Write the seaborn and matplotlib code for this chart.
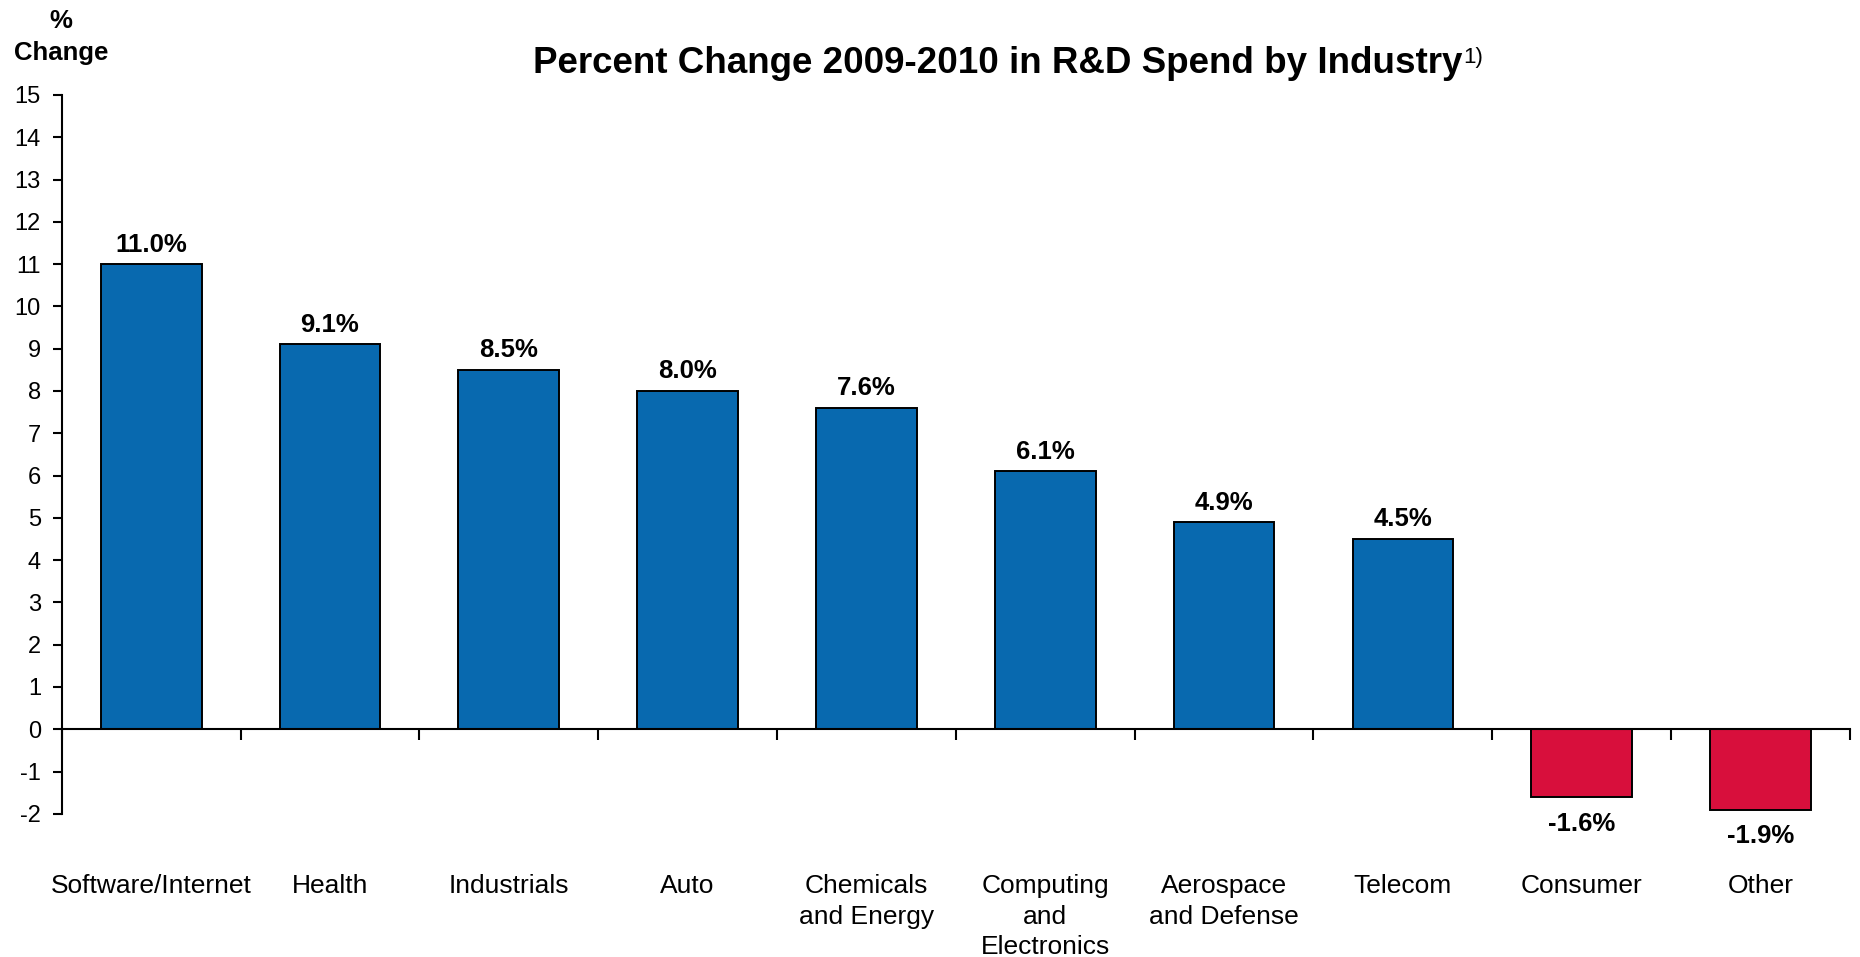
import matplotlib
matplotlib.use("Agg")
import matplotlib.pyplot as plt
import numpy as np
import pandas as pd
import seaborn as sns

# Percent change in R&D spend, 2009 -> 2010, by industry
industries = [
    "Software/Internet", "Health", "Industrials", "Auto",
    "Chemicals\nand Energy", "Computing\nand\nElectronics",
    "Aerospace\nand Defense", "Telecom", "Consumer", "Other",
]
pct_change = [11.0, 9.1, 8.5, 8.0, 7.6, 6.1, 4.9, 4.5, -1.6, -1.9]
value_labels = ["11.0%", "9.1%", "8.5%", "8.0%", "7.6%", "6.1%",
                "4.9%", "4.5%", "-1.6%", "-1.9%"]
y_ticks = list(range(-2, 16))

BLUE = "#0869AF"
RED = "#D80F3C"

sns.set_theme(style="white")
plt.rcParams["font.family"] = ["Liberation Sans", "DejaVu Sans"]
plt.rcParams.update({
    "text.color": "black",
    "axes.labelcolor": "black",
    "xtick.color": "black",
    "ytick.color": "black",
    "xtick.labelcolor": "black",
    "ytick.labelcolor": "black",
})

df = pd.DataFrame({"industry": industries, "pct": pct_change})
palette = {name: (BLUE if v >= 0 else RED) for name, v in zip(industries, pct_change)}

fig = plt.figure(figsize=(18.6, 9.57), dpi=100)
ax = fig.add_axes([0.0332, 0.1496, 0.9614, 0.7512])

sns.barplot(data=df, x="industry", y="pct", hue="industry", palette=palette,
            legend=False, width=0.563, edgecolor="black", linewidth=1.4,
            saturation=1, ax=ax)

ax.set_xlim(-0.5, len(industries) - 0.5)
ax.set_ylim(-2, 15)
ax.set_yticks(y_ticks)
ax.set_yticklabels([str(t) for t in y_ticks])
ax.set_xlabel("")
ax.set_ylabel("")

# axis lines: zero line carries the category separators
for side in ("top", "right"):
    ax.spines[side].set_visible(False)
ax.spines["bottom"].set_position(("data", 0))
for side in ("left", "bottom"):
    ax.spines[side].set_linewidth(1.5)
    ax.spines[side].set_color("black")

ax.tick_params(axis="y", which="major", direction="out", length=6.5, width=1.5,
               color="black", pad=8.5, labelsize=17, left=True)
ax.set_xticks(np.arange(len(industries)))
ax.set_xticklabels(industries, fontsize=19, linespacing=1.36)
ax.set_xticks(np.arange(len(industries) + 1) - 0.5, minor=True)
ax.tick_params(axis="x", which="major", length=0, pad=104)
ax.tick_params(axis="x", which="minor", direction="out", length=8, width=1.5,
               color="black", bottom=True)

# value labels above / below bars
for i, (v, lab) in enumerate(zip(pct_change, value_labels)):
    if v >= 0:
        ax.annotate(lab, xy=(i, v), xytext=(0, 9), textcoords="offset points",
                    ha="center", va="baseline", fontsize=18.5, fontweight="bold")
    else:
        ax.annotate(lab, xy=(i, v), xytext=(0, -10.5), textcoords="offset points",
                    ha="center", va="top", fontsize=18.5, fontweight="bold")

# title with footnote marker
title = fig.text(0.2864, 0.9234, "Percent Change 2009-2010 in R&D Spend by Industry",
                 ha="left", va="baseline", fontsize=26.5, fontweight="bold")
ax.annotate("1)", xy=(1, 0), xycoords=title, xytext=(1, 13),
            textcoords="offset points", ha="left", va="baseline", fontsize=16)

# unit label above the value axis
fig.text(0.0327, 0.9704, "%", ha="center", va="baseline", fontsize=18.5, fontweight="bold")
fig.text(0.0327, 0.9373, "Change", ha="center", va="baseline", fontsize=18.5, fontweight="bold")

fig.savefig("out.png", dpi=100)
